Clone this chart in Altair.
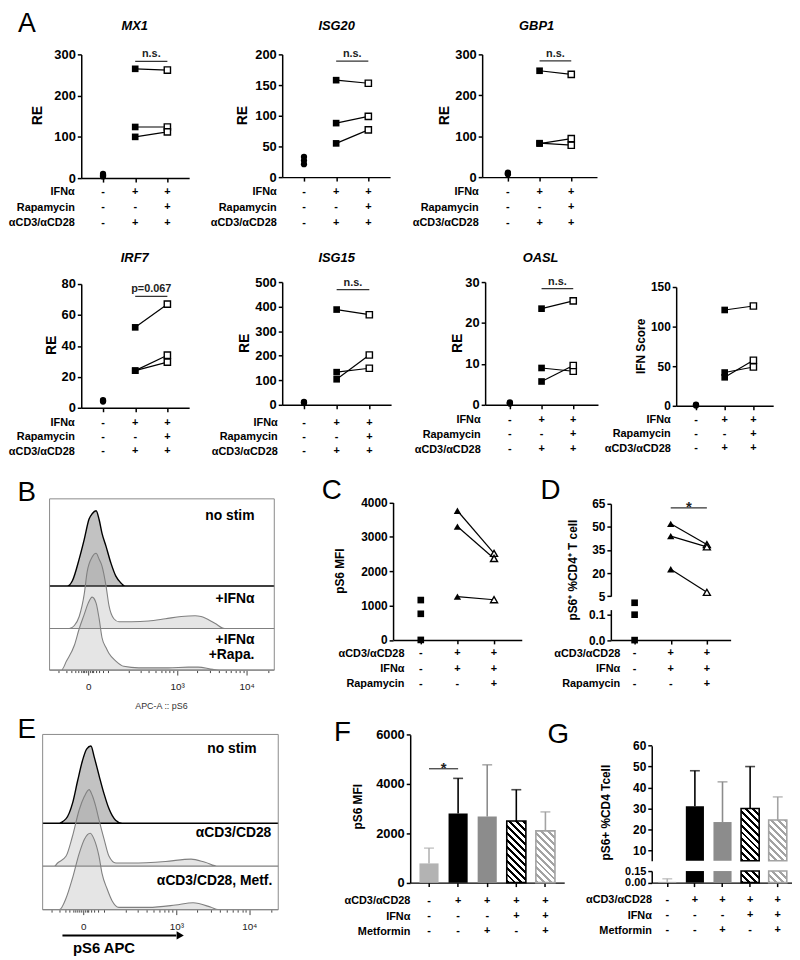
import altair as alt
import pandas as pd

FONT = "Arial, Liberation Sans, sans-serif"
MARGIN = 8
W, H = 792, 952

# ------------------------------------------------------------------ data
COND = ["ctrl", "ifn", "ifn_rapa"]
BARS = ["none", "cd3", "cd3_metf", "cd3_ifn", "cd3_ifn_metf"]

# Panel A: relative expression (RE)
MX1_CTRL = [10, 7, 4]
MX1_IFN = [265, 124, 100]
MX1_RAPA = [262, 124, 112]
ISG20_CTRL = [33, 27, 21]
ISG20_IFN = [158, 88, 55]
ISG20_RAPA = [153, 99, 77]
GBP1_CTRL = [11, 9, 7]
GBP1_IFN = [260, 83, 82]
GBP1_RAPA = [251, 78, 94]
IRF7_CTRL = [5, 4.5, 4]
IRF7_IFN = [52, 24, 24]
IRF7_RAPA = [67, 34, 29.5]
ISG15_CTRL = [12, 9, 7]
ISG15_IFN = [388, 133, 104]
ISG15_RAPA = [367, 149, 203]
OASL_CTRL = [0.6, 0.4, 0.3]
OASL_IFN = [23.5, 9.0, 5.7]
OASL_RAPA = [25.4, 8.2, 9.6]
IFNS_CTRL = [1.5, 1.0, 0.5]
IFNS_IFN = [121, 42, 36]
IFNS_RAPA = [126, 49, 57.5]

# Panel C: pS6 MFI ; Panel D: pS6+ % of CD4+ T cells
C_CTRL = [1160, 760, 0]
C_IFN = [3760, 3300, 1260]
C_RAPA = [2520, 2370, 1170]
D_CTRL = [0.147, 0.1, 0.0]
D_IFN = [52, 44, 22.5]
D_RAPA = [38.5, 37, 7.5]

# Panels F, G: mean and mean+SD
F_MEAN = [780, 2800, 2680, 2500, 2100]
F_TOP = [1400, 4230, 4780, 3770, 2870]
G_MEAN = [0.01, 31, 23.5, 30, 24.5]
G_TOP = [0.05, 48, 42.7, 50, 35.5]

# condition tables
A_ROWS = ["IFNα", "Rapamycin", "αCD3/αCD28"]
A_SIGNS = [["-", "+", "+"], ["-", "-", "+"], ["-", "+", "+"]]
CD_ROWS = ["αCD3/αCD28", "IFNα", "Rapamycin"]
CD_SIGNS = [["-", "+", "+"], ["-", "+", "+"], ["-", "-", "+"]]
FG_ROWS = ["αCD3/αCD28", "IFNα", "Metformin"]
FG_SIGNS = [["-", "+", "+", "+", "+"], ["-", "-", "-", "+", "+"], ["-", "-", "+", "-", "+"]]

# flow histograms (display channel 0-1024, normalised count)
B_NOSTIM_CH = [0, 81, 104, 135, 158, 180, 194, 212, 226, 239, 257, 280, 302, 325, 343, 1024]
B_NOSTIM_N = [0, 0, 7, 36, 62, 89, 96, 100, 88, 70, 53, 30, 13, 4, 0, 0]
B_IFN_CH = [0, 90, 113, 135, 158, 171, 194, 212, 226, 239, 257, 271, 293, 316, 374, 451, 528, 600, 663, 690, 753, 798, 1024]
B_IFN_N = [0, 0, 4, 16, 46, 75, 95, 100, 92, 83, 57, 30, 13, 9, 9, 10, 13, 16, 17, 16, 7, 0, 0]
B_RAPA_CH = [0, 54, 77, 113, 135, 158, 176, 194, 212, 226, 239, 257, 271, 302, 338, 406, 541, 632, 677, 744, 789, 1024]
B_RAPA_N = [0, 0, 12, 33, 55, 74, 89, 97, 89, 68, 43, 30, 22, 12, 5, 3, 3, 4, 4, 1, 0, 0]
E_NOSTIM_CH = [0, 65, 102, 130, 152, 173, 191, 210, 224, 245, 267, 288, 317, 346, 1024]
E_NOSTIM_N = [0, 0, 6, 26, 55, 81, 96, 100, 86, 62, 38, 19, 4, 0, 0]
E_CD3_CH = [0, 50, 65, 102, 129, 159, 181, 202, 215, 231, 245, 267, 288, 318, 387, 534, 645, 706, 762, 1024]
E_CD3_N = [0, 0, 4, 13, 38, 73, 90, 99, 92, 77, 60, 35, 13, 4, 4, 6, 9, 5, 0, 0]
E_METF_CH = [0, 73, 102, 129, 159, 181, 207, 224, 245, 258, 280, 301, 331, 460, 577, 654, 732, 762, 1024]
E_METF_N = [0, 0, 15, 40, 73, 91, 99, 91, 69, 47, 27, 12, 3, 3, 6, 9, 3, 0, 0]

FLOW_MAJOR = [176, 581, 898]
FLOW_MAJOR_LABELS = ["0", "10³", "10⁴"]
FLOW_MINOR = [40, 75, 100, 118, 132, 143, 152, 160, 166, 186, 192, 200, 210, 224, 242, 268,
              361, 415, 453, 483, 508, 528, 546, 562, 673, 730, 770, 801, 827, 848, 867, 883, 995]

# ------------------------------------------------------------------ helpers
layers = []


def P(v):
    return v - MARGIN


def pt_scale(domain, left, first, last):
    step = (last - first) / (len(domain) - 1)
    pad = (first - left) / step
    return alt.Scale(type="point", domain=domain, range=[P(left), P(last + first - left)], padding=pad)


def bd_scale(domain, left, first_c, step, bw):
    n = len(domain)
    pi = 1 - bw / step
    po = (first_c - left - bw / 2) / step
    right = left + step * (n - pi + 2 * po)
    return alt.Scale(type="band", domain=domain, range=[P(left), P(right)],
                     paddingInner=pi, paddingOuter=po)


def ln_scale(domain, y_lo, y_hi, clamp=False):
    return alt.Scale(type="linear", domain=domain, range=[P(y_lo), P(y_hi)],
                     nice=False, zero=False, clamp=clamp)


def y_axis(x_page, values, fmt="d", size=13, expr=None):
    kw = dict(orient="left", offset=-P(x_page), values=values, title=None, grid=False,
              domainColor="black", domainWidth=1.5, tickColor="black", tickWidth=1.5, tickSize=4,
              labelFont=FONT, labelFontSize=size, labelFontWeight="bold", labelColor="black",
              labelPadding=2, labelOverlap=False, labelFlush=False, format=fmt)
    if expr:
        kw["labelExpr"] = expr
    return alt.Axis(**kw)


def x_axis(y_page):
    return alt.Axis(orient="bottom", offset=P(y_page) - H, labels=False, title=None, grid=False,
                    domainColor="black", domainWidth=1.5, tickColor="black", tickWidth=1.5, tickSize=4)


def txt(s, x, y, size=12, weight="normal", style="normal", align="center", angle=None,
        color="black", baseline="middle"):
    kw = dict(font=FONT, fontSize=size, fontWeight=weight, fontStyle=style, align=align,
              baseline=baseline, color=color)
    if angle is not None:
        kw["angle"] = angle
    return alt.Chart(pd.DataFrame({"t": [s]})).mark_text(**kw).encode(
        text="t:N", x=alt.value(P(x)), y=alt.value(P(y)))


def table(rows, signs, cats, sx, y_first, y_last, label_right):
    recs = [dict(row=r, cat=c, s=s) for r, srow in zip(rows, signs) for c, s in zip(cats, srow)]
    sy = alt.Scale(type="point", domain=rows, range=[P(y_first), P(y_last)], padding=0)
    ax = alt.Axis(orient="left", offset=-P(label_right), domain=False, ticks=False, tickSize=0,
                  labelPadding=0, title=None, grid=False, labelFont=FONT, labelFontSize=11,
                  labelFontWeight="bold", labelColor="black", labelOverlap=False)
    layers.append(alt.Chart(pd.DataFrame(recs)).mark_text(
        font=FONT, fontSize=11, fontWeight="bold", color="black").encode(
        x=alt.X("cat:N", scale=sx, axis=None), y=alt.Y("row:N", scale=sy, axis=ax), text="s:N"))


def sym(kind, size):
    shape = {"circle": "circle", "sq": "square", "osq": "square",
             "tri": "triangle-up", "otri": "triangle-up"}[kind]
    if kind.startswith("o"):
        return dict(shape=shape, filled=True, fill="white", stroke="black", strokeWidth=1.4,
                    size=size, opacity=1)
    return dict(shape=shape, filled=True, color="black", size=size, opacity=1)


def points(values, cat, sx, sy, kind, size, xax=None, yax=None):
    d = pd.DataFrame({"cat": [cat] * len(values), "v": values})
    layers.append(alt.Chart(d).mark_point(**sym(kind, size)).encode(
        x=alt.X("cat:N", scale=sx, axis=xax), y=alt.Y("v:Q", scale=sy, axis=yax)))


def pair_lines(a, b, sx, sy, xax=None, yax=None):
    d = pd.DataFrame({"pair": [0, 1, 2, 0, 1, 2], "cat": [COND[1]] * 3 + [COND[2]] * 3,
                      "v": list(a) + list(b)})
    layers.append(alt.Chart(d).mark_line(color="black", strokeWidth=1.2).encode(
        x=alt.X("cat:N", scale=sx, axis=xax), y=alt.Y("v:Q", scale=sy, axis=yax), detail="pair:N"))


def bracket(c0, c1, v, label, sx, sy, dx, size=11, dy=-4):
    d = pd.DataFrame({"cat": [c0, c1], "v": [v, v]})
    layers.append(alt.Chart(d).mark_line(color="#333333", strokeWidth=1.2).encode(
        x=alt.X("cat:N", scale=sx, axis=None), y=alt.Y("v:Q", scale=sy, axis=None)))
    t = pd.DataFrame({"cat": [c0], "v": [v], "t": [label]})
    layers.append(alt.Chart(t).mark_text(font=FONT, fontSize=size, fontWeight="bold", dx=dx, dy=dy,
                                         baseline="alphabetic", color="#222222").encode(
        x=alt.X("cat:N", scale=sx, axis=None), y=alt.Y("v:Q", scale=sy, axis=None), text="t:N"))


def hatch(color, w, h, period=7.0, frac=0.42):
    denom = w * w + h * h
    dt = w * period / denom
    tmax = w * (w + h) / denom
    stops = []
    k = 0
    while k * dt <= tmax:
        a = round(min(k * dt, 1.0), 5)
        b = round(min(k * dt + dt * frac, 1.0), 5)
        stops += [{"offset": a, "color": "white"}, {"offset": a, "color": color},
                  {"offset": b, "color": color}, {"offset": b, "color": "white"}]
        k += 1
    return {"gradient": "linear", "x1": 0, "y1": 1, "x2": 1, "y2": 1 - h / w, "stops": stops}


BAR_STYLES = [
    dict(fill="#b3b3b3", err="#b3b3b3"),
    dict(fill="black", err="black"),
    dict(fill="#8c8c8c", err="#8c8c8c"),
    dict(hatch="black", stroke="black", err="black"),
    dict(hatch="#a3a3a3", stroke="#a3a3a3", err="#a3a3a3"),
]


def bar(b, mean, sx, sy, base, style, w_px, h_px, xax=None, yax=None):
    d = pd.DataFrame({"bar": [b], "v": [mean]})
    if "hatch" in style:
        mk = dict(fill=hatch(style["hatch"], w_px, h_px), stroke=style["stroke"], strokeWidth=1.6)
    else:
        mk = dict(fill=style["fill"])
    layers.append(alt.Chart(d).mark_bar(**mk).encode(
        x=alt.X("bar:N", scale=sx, axis=xax), y=alt.Y("v:Q", scale=sy, axis=yax), y2=alt.datum(base)))


def errbar(b, mean, top, sx, sy, color):
    d = pd.DataFrame({"bar": [b], "v": [mean], "t": [top]})
    layers.append(alt.Chart(d).mark_rule(color=color, strokeWidth=1.6).encode(
        x=alt.X("bar:N", scale=sx, axis=None), y=alt.Y("v:Q", scale=sy, axis=None), y2="t:Q"))
    layers.append(alt.Chart(d).mark_tick(color=color, thickness=1.6, size=10, orient="horizontal").encode(
        x=alt.X("bar:N", scale=sx, axis=None), y=alt.Y("t:Q", scale=sy, axis=None)))


def flow_axis(y_page):
    expr = ""
    for v, lab in zip(FLOW_MAJOR, FLOW_MAJOR_LABELS):
        expr += "datum.value == %d ? '%s' : " % (v, lab)
    expr += "''"
    test = "indexof([%s], datum.value) >= 0" % ",".join(str(v) for v in FLOW_MAJOR)
    return alt.Axis(orient="bottom", offset=P(y_page) - H, values=sorted(FLOW_MAJOR + FLOW_MINOR),
                    labelExpr=expr, title=None, grid=False, domain=False,
                    tickSize={"condition": {"test": test, "value": 5}, "value": 2.5},
                    tickColor="#444444", tickWidth=1, labelFont=FONT, labelFontSize=10,
                    labelColor="#222222", labelPadding=7, labelFlush=False, labelOverlap=False)


def flow_panel(box, bases, peak, curves, styles):
    left, right, top, bottom = box
    sx = alt.Scale(type="linear", domain=[0, 1024], range=[P(left), P(right)], nice=False, zero=False)
    for (ch, n), st, base in zip(curves, styles, bases):
        d = pd.DataFrame({"ch": ch, "n": n})
        layers.append(alt.Chart(d).mark_area(interpolate="monotone", **st).encode(
            x=alt.X("ch:Q", scale=sx, axis=None),
            y=alt.Y("n:Q", scale=ln_scale([0, 100], base, base - peak), axis=None),
            y2=alt.datum(0)))
    fr = pd.DataFrame({"x0": [0], "x1": [1024], "y0": [0], "y1": [1]})
    layers.append(alt.Chart(fr).mark_rect(fillOpacity=0, stroke="#8a8a8a", strokeWidth=1).encode(
        x=alt.X("x0:Q", scale=sx, axis=flow_axis(bottom)), x2="x1:Q",
        y=alt.Y("y0:Q", scale=ln_scale([0, 1], bottom, top), axis=None), y2="y1:Q"))


HIST_STYLES = [
    dict(fill="#c2c2c2", fillOpacity=1, stroke="black", strokeWidth=1.4),
    dict(fill="#9a9a9a", fillOpacity=0.26, stroke="#808080", strokeWidth=1.1),
    dict(fill="#9a9a9a", fillOpacity=0.26, stroke="#808080", strokeWidth=1.1),
]

# ------------------------------------------------------------------ panel A
A_PANELS = [
    dict(title="MX1", data=(MX1_CTRL, MX1_IFN, MX1_RAPA), ax=82, c1=104, c3=169, y0=175, ytop=50,
         dom=[0, 300], ticks=[0, 100, 200, 300], tpos=(136, 21), yt="RE", ypos=(38, 112),
         tab=(189, 220), labr=75, br=283, brl="n.s."),
    dict(title="ISG20", data=(ISG20_CTRL, ISG20_IFN, ISG20_RAPA), ax=285, c1=307, c3=372, y0=174, ytop=50,
         dom=[0, 200], ticks=[0, 50, 100, 150, 200], tpos=(340, 21), yt="RE", ypos=(245, 112),
         tab=(189, 220), labr=279, br=189, brl="n.s."),
    dict(title="GBP1", data=(GBP1_CTRL, GBP1_IFN, GBP1_RAPA), ax=487, c1=513, c3=577, y0=174, ytop=50,
         dom=[0, 300], ticks=[0, 100, 200, 300], tpos=(542, 21), yt="RE", ypos=(450, 112),
         tab=(189, 220), labr=483, br=284, brl="n.s."),
    dict(title="IRF7", data=(IRF7_CTRL, IRF7_IFN, IRF7_RAPA), ax=82, c1=104, c3=169, y0=407, ytop=282,
         dom=[0, 80], ticks=[0, 20, 40, 60, 80], tpos=(136, 256), yt="RE", ypos=(52, 344),
         tab=(422, 451), labr=75, br=72, brl="p=0.067"),
    dict(title="ISG15", data=(ISG15_CTRL, ISG15_IFN, ISG15_RAPA), ax=285, c1=307, c3=373, y0=404, ytop=280,
         dom=[0, 500], ticks=[0, 100, 200, 300, 400, 500], tpos=(340, 256), yt="RE", ypos=(247, 342),
         tab=(422, 451), labr=280, br=469, brl="n.s."),
    dict(title="OASL", data=(OASL_CTRL, OASL_IFN, OASL_RAPA), ax=490, c1=515, c3=579, y0=404, ytop=280,
         dom=[0, 30], ticks=[0, 10, 20, 30], tpos=(546, 256), yt="RE", ypos=(463, 342),
         tab=(419, 449), labr=485, br=28.4, brl="n.s."),
    dict(title=None, data=(IFNS_CTRL, IFNS_IFN, IFNS_RAPA), ax=683, c1=703, c3=761, y0=405, ytop=285,
         dom=[0, 150], ticks=[0, 50, 100, 150], tpos=None, yt="IFN  Score", ypos=(647, 345),
         tab=(419, 448), labr=677, br=None, brl=None),
]

for p in A_PANELS:
    sx = pt_scale(COND, p["ax"], p["c1"], p["c3"])
    sy = ln_scale(p["dom"], p["y0"], p["ytop"])
    ctrl, ifn, rapa = p["data"]
    big = p["yt"] == "RE"
    pair_lines(ifn, rapa, sx, sy, x_axis(p["y0"]), y_axis(p["ax"], p["ticks"], size=13 if big else 12))
    points(ctrl, COND[0], sx, sy, "circle", 40)
    points(ifn, COND[1], sx, sy, "sq", 45)
    points(rapa, COND[2], sx, sy, "osq", 40)
    if p["br"] is not None:
        bracket(COND[1], COND[2], p["br"], p["brl"], sx, sy, (p["c3"] - p["c1"]) / 4)
    if p["title"]:
        layers.append(txt(p["title"], p["tpos"][0], p["tpos"][1], size=13, weight="bold", style="italic"))
    layers.append(txt(p["yt"], p["ypos"][0], p["ypos"][1], size=14 if big else 12, weight="bold", angle=270))
    table(A_ROWS, A_SIGNS, COND, sx, p["tab"][0], p["tab"][1], p["labr"])

layers.append(txt("A", 27, 19, size=27))

# ------------------------------------------------------------------ panel B (flow)
flow_panel((50, 277, 499, 672), [587, 630, 672], 76,
           [(B_NOSTIM_CH, B_NOSTIM_N), (B_IFN_CH, B_IFN_N), (B_RAPA_CH, B_RAPA_N)], HIST_STYLES)
layers.append(txt("B", 27, 493, size=28))
layers.append(txt("no stim", 257, 516, size=14, weight="bold", align="right"))
layers.append(txt("+IFNα", 257, 600, size=14, weight="bold", align="right"))
layers.append(txt("+IFNα", 257, 642, size=14, weight="bold", align="right"))
layers.append(txt("+Rapa.", 257, 657, size=14, weight="bold", align="right"))
layers.append(txt("APC-A :: pS6", 163, 708, size=9, color="#333333"))

# ------------------------------------------------------------------ panel C
sxC = pt_scale(COND, 397, 425, 499)
syC = ln_scale([0, 4000], 641.5, 502.7)
pair_lines(C_IFN, C_RAPA, sxC, syC, x_axis(641.5), y_axis(397, [0, 1000, 2000, 3000, 4000], size=12))
points(C_CTRL, COND[0], sxC, syC, "sq", 45)
points(C_IFN, COND[1], sxC, syC, "tri", 55)
points(C_RAPA, COND[2], sxC, syC, "otri", 50)
layers.append(txt("pS6 MFI", 343, 572, size=12, weight="bold", angle=270))
table(CD_ROWS, CD_SIGNS, COND, sxC, 655, 686, 408)
layers.append(txt("C", 335, 491, size=28))

# ------------------------------------------------------------------ panel D (broken axis)
sxD = pt_scale(COND, 617, 641, 714)
syDu = ln_scale([5, 65], 597.3, 504)
syDl = ln_scale([0, 0.12], 641.7, 610.9)
pair_lines(D_IFN, D_RAPA, sxD, syDu, None, y_axis(617, [5, 20, 35, 50, 65], size=12))
points(D_CTRL, COND[0], sxD, syDl, "sq", 45, x_axis(641.7), y_axis(617, [0, 0.1], fmt=".1f", size=12))
points(D_IFN, COND[1], sxD, syDu, "tri", 55)
points(D_RAPA, COND[2], sxD, syDu, "otri", 50)
bracket(COND[1], COND[2], 62.4, "*", sxD, syDu, (714 - 641) / 4, size=15, dy=4)
layers.append(txt("pS6⁺ %CD4⁺ T cell", 579, 571, size=12, weight="bold", angle=270))
table(CD_ROWS, CD_SIGNS, COND, sxD, 655, 686, 626)
layers.append(txt("D", 556, 491, size=28))

# ------------------------------------------------------------------ panel E (flow)
flow_panel((43, 281, 737, 914), [826.7, 870, 914], 78,
           [(E_NOSTIM_CH, E_NOSTIM_N), (E_CD3_CH, E_CD3_N), (E_METF_CH, E_METF_N)], HIST_STYLES)
layers.append(txt("E", 27, 733, size=28))
layers.append(txt("no stim", 259, 752, size=14, weight="bold", align="right"))
layers.append(txt("αCD3/CD28", 274, 837, size=14, weight="bold", align="right"))
layers.append(txt("αCD3/CD28, Metf.", 275, 885, size=14, weight="bold", align="right"))
layers.append(alt.Chart(pd.DataFrame({"a": [0]})).mark_rule(color="black", strokeWidth=2).encode(
    x=alt.value(P(63)), x2=alt.value(P(178)), y=alt.value(P(940))))
layers.append(alt.Chart(pd.DataFrame({"a": [0]})).mark_point(
    shape="triangle-right", filled=True, color="black", size=70, opacity=1).encode(
    x=alt.value(P(182)), y=alt.value(P(940))))
layers.append(txt("pS6 APC", 105, 953, size=15, weight="bold"))

# ------------------------------------------------------------------ panel F (bars)
F_LEFT, F_FIRST, F_STEP, F_BW = 414.3, 433.3, 29.4, 19.3
F_Y0, F_YTOP, F_MAX = 886.7, 737.3, 6000
sxF = bd_scale(BARS, F_LEFT, F_FIRST, F_STEP, F_BW)
syF = ln_scale([0, F_MAX], F_Y0, F_YTOP)
for i, b in enumerate(BARS):
    st = BAR_STYLES[i]
    errbar(b, F_MEAN[i], F_TOP[i], sxF, syF, st["err"])
    h_px = F_MEAN[i] / F_MAX * (F_Y0 - F_YTOP)
    if i == 0:
        bar(b, F_MEAN[i], sxF, syF, 0, st, F_BW, h_px, x_axis(F_Y0), y_axis(F_LEFT, [0, 2000, 4000, 6000]))
    else:
        bar(b, F_MEAN[i], sxF, syF, 0, st, F_BW, h_px)
bracket(BARS[0], BARS[1], 4620, "*", sxF, syF, F_STEP / 2, size=15, dy=4)
layers.append(txt("pS6 MFI", 362, 810, size=12, weight="bold", angle=270))
table(FG_ROWS, FG_SIGNS, BARS, sxF, 905, 936, 414)
layers.append(txt("F", 346, 736, size=28))

# ------------------------------------------------------------------ panel G (bars, broken axis)
G_LEFT, G_FIRST, G_STEP, G_BW = 658.3, 674, 27.9, 18.3
GU_LO, GU_HI, GU_Y0, GU_YTOP = 5, 60, 864.6, 748.3
GL_HI, GL_Y0, GL_YTOP = 0.15, 886.7, 875
sxG = bd_scale(BARS, G_LEFT, G_FIRST, G_STEP, G_BW)
syGu = ln_scale([GU_LO, GU_HI], GU_Y0, GU_YTOP, clamp=True)
syGl = ln_scale([0, GL_HI], GL_Y0, GL_YTOP, clamp=True)
for i, b in enumerate(BARS):
    st = BAR_STYLES[i]
    if G_MEAN[i] >= GU_LO:
        errbar(b, G_MEAN[i], G_TOP[i], sxG, syGu, st["err"])
        h_up = (G_MEAN[i] - GU_LO) / (GU_HI - GU_LO) * (GU_Y0 - GU_YTOP)
        bar(b, G_MEAN[i], sxG, syGu, GU_LO, st, G_BW, h_up)
    else:
        errbar(b, G_MEAN[i], G_TOP[i], sxG, syGl, st["err"])
    h_lo = min(G_MEAN[i], GL_HI) / GL_HI * (GL_Y0 - GL_YTOP)
    if i == 0:
        bar(b, G_MEAN[i], sxG, syGl, 0, st, G_BW, h_lo, x_axis(GL_Y0),
            y_axis(G_LEFT, [0, 0.15], fmt=".2f", size=11))
    else:
        bar(b, G_MEAN[i], sxG, syGl, 0, st, G_BW, h_lo)
# upper axis segment
layers.append(alt.Chart(pd.DataFrame({"bar": [BARS[0]], "v": [GU_LO]})).mark_point(opacity=0).encode(
    x=alt.X("bar:N", scale=sxG, axis=None),
    y=alt.Y("v:Q", scale=syGu, axis=y_axis(G_LEFT, [10, 20, 30, 40, 50, 60], size=12))))
layers.append(txt("pS6+  %CD4  Tcell", 612, 816, size=12, weight="bold", angle=270))
table(FG_ROWS, FG_SIGNS, BARS, sxG, 904, 935, 658)
layers.append(txt("G", 564, 738, size=28))

# ------------------------------------------------------------------ compose
chart = (
    alt.layer(*layers)
    .resolve_scale(x="independent", y="independent")
    .properties(width=W, height=H, padding=0, autosize=alt.AutoSizeParams(type="none"))
    .configure_view(stroke=None)
    .configure_axis(grid=False)
)
chart.save("out.html", embed_options={"renderer": "svg", "actions": False})
